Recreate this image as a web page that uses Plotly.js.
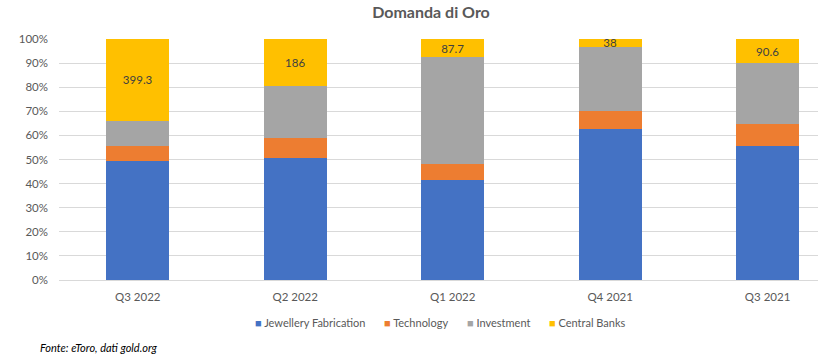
<!DOCTYPE html>
<html>
<head>
<meta charset="utf-8">
<script src="https://cdn.plot.ly/plotly-3.0.1.min.js"></script>
<style>html,body{margin:0;padding:0;background:#fff;}#chart{width:818px;height:358px;}</style>
</head>
<body>
<div id="chart"></div>
<script>
const categories = ["Q3 2022", "Q2 2022", "Q1 2022", "Q4 2021", "Q3 2021"];
const jewellery = [578, 485, 485, 722, 499];
const technology = [75, 81, 79.5, 85, 82];
const investment = [122, 207, 517, 307, 226];
const centralBanks = [399.3, 186, 87.7, 38, 90.6];
const yTicks = [0, 10, 20, 30, 40, 50, 60, 70, 80, 90, 100];
const seriesNames = ["Jewellery Fabrication", "Technology", "Investment", "Central Banks"];
const seriesColors = ["#4472C4", "#ED7D31", "#A5A5A5", "#FFC000"];

const font = "Lato, 'Open Sans', sans-serif";
// plot area in pixels: x 59..818, y 39..280
const px = x => (x - 59) / 759;
const py = y => (280 - y) / 241;

function series(i, vals, withText) {
  const t = {
    type: "bar", name: seriesNames[i], x: categories, y: vals,
    marker: {color: seriesColors[i]}, width: 0.4, hoverinfo: "skip"
  };
  if (withText) {
    t.text = vals.map(v => String(v));
    t.texttemplate = "%{text}";
    t.textposition = "inside";
    t.insidetextanchor = "middle";
    t.textangle = 0;
    t.textfont = {family: font, size: 11.5, color: "#404040"};
    t.constraintext = "none";
  } else {
    t.textposition = "none";
  }
  return t;
}
const data = [
  series(0, jewellery, false),
  series(1, technology, false),
  series(2, investment, false),
  series(3, centralBanks, true)
];
const legendX = [253, 382, 465, 547];
const legendAnn = seriesNames.map((n, i) => ({
  text: "<span style='color:" + seriesColors[i] + "'>■</span> " + n,
  xref: "paper", yref: "paper", x: px(legendX[i]), xanchor: "left",
  y: py(322), yanchor: "middle", showarrow: false,
  font: {family: font, size: 11, color: "#595959"}
}));
const layout = {
  width: 818, height: 358,
  margin: {l: 59, r: 0, t: 39, b: 78},
  barmode: "stack", barnorm: "percent",
  paper_bgcolor: "#fff", plot_bgcolor: "#fff",
  font: {family: font, size: 11, color: "#595959"},
  uniformtext: {mode: "show", minsize: 11.5},
  title: {text: "<b>Domanda di Oro</b>", x: 431/818, xref: "container", xanchor: "center", y: 0.965, yref: "container", yanchor: "middle", font: {family: font, size: 16, color: "#595959"}},
  xaxis: {range: [-0.5, 4.32], showgrid: false, showline: false, ticks: "", ticklabelstandoff: 8, tickfont: {size: 11.5, color: "#595959"}, fixedrange: true},
  yaxis: {range: [0, 100], tickvals: yTicks, ticktext: yTicks.map(v => v + "%"), showgrid: true, gridcolor: "#D9D9D9", gridwidth: 1, zeroline: true, zerolinecolor: "#D9D9D9", ticks: "", ticklabelstandoff: 10, tickfont: {size: 11.5, color: "#595959"}, fixedrange: true},
  showlegend: false,
  annotations: legendAnn.concat([{text: "<i>Fonte: eToro, dati gold.org</i>", xref: "paper", yref: "paper", x: px(38), xanchor: "left", y: py(347), yanchor: "middle", showarrow: false, font: {family: font, size: 11, color: "#000"}}])
};
Plotly.newPlot("chart", data, layout, {displayModeBar: false, staticPlot: true});
</script>
</body>
</html>
